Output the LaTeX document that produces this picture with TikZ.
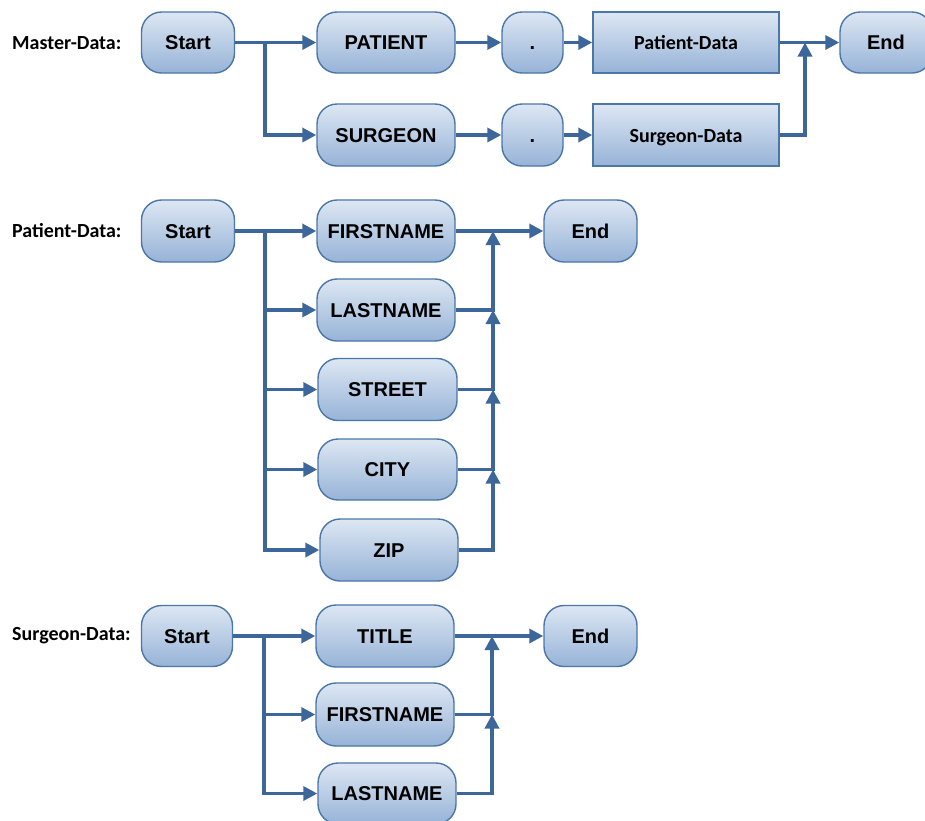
\documentclass[tikz,border=0pt]{standalone}
\usepackage{fontspec}
\setmainfont{Liberation Sans}
\newfontfamily\calfont{Carlito}
\usetikzlibrary{arrows.meta}
\definecolor{linec}{HTML}{3D679A}
\definecolor{bordc}{HTML}{4A76A8}
\definecolor{topc}{HTML}{DDE7F3}
\definecolor{botc}{HTML}{96B3D7}
\begin{document}
\begin{tikzpicture}[x=1pt,y=-1pt,
  boxbase/.style={draw=bordc, line width=1.4pt, top color=topc, bottom color=botc,
    inner sep=0pt, text=black, text height=14.5pt, text depth=0pt},
  rbox/.style 2 args={boxbase, rounded corners=20pt, minimum width=#1, minimum height=#2,
    font=\bfseries\fontsize{20}{24}\selectfont},
  sbox/.style 2 args={boxbase, minimum width=#1, minimum height=#2,
    font=\calfont\bfseries\fontsize{20}{24}\selectfont},
  lbl/.style={anchor=west, inner sep=0pt, font=\calfont\bfseries\fontsize{20}{24}\selectfont},
  conn/.style={draw=linec, line width=3.4pt},
  arr/.style={conn, -{Triangle[length=14pt,width=14pt]}},
  uparr/.style={arr}]
\useasboundingbox (0,0) rectangle (925,820);

% ---------- Master-Data ----------
\node[lbl] (lblM) at (12,43) {Master-Data:};
\node[rbox={93pt}{61pt}] (mStart) at (188,42.5) {Start};
\node[rbox={138pt}{61pt}] (mPat) at (386,42.5) {PATIENT};
\node[rbox={138pt}{62pt}] (mSur) at (386,135) {SURGEON};
\node[rbox={61pt}{61pt}] (mDot1) at (532.5,42.5) {.};
\node[rbox={61pt}{62pt}] (mDot2) at (532.5,135) {.};
\node[sbox={186pt}{61pt}] (mPD) at (686,42.5) {Patient-Data};
\node[sbox={186pt}{62pt}] (mSD) at (686,135) {Surgeon-Data};
\node[rbox={92pt}{61pt}] (mEnd) at (886,42.5) {End};
\coordinate (mB) at (265,42.5);
\coordinate (mJ) at (805,42.5);

\draw[arr] (mStart.east) -- (mPat.west);
\draw[arr] (mB) |- (mSur.west);
\draw[arr] (mPat.east) -- (mDot1.west);
\draw[arr] (mDot1.east) -- (mPD.west);
\draw[arr] (mSur.east) -- (mDot2.west);
\draw[arr] (mDot2.east) -- (mSD.west);
\draw[arr] (mPD.east) -- (mEnd.west);
\draw[uparr] (mSD.east) -| (mJ);

% ---------- Patient-Data ----------
\node[lbl] (lblP) at (12,231) {Patient-Data:};
\node[rbox={93pt}{62pt}] (pStart) at (188,231) {Start};
\node[rbox={138pt}{62pt}] (pFirst) at (386,231) {FIRSTNAME};
\node[rbox={138pt}{62pt}] (pLast) at (386,310) {LASTNAME};
\node[rbox={139pt}{62pt}] (pStreet) at (387.5,389.5) {STREET};
\node[rbox={139pt}{61pt}] (pCity) at (387.5,469.5) {CITY};
\node[rbox={138pt}{62pt}] (pZip) at (389,550) {ZIP};
\node[rbox={93pt}{62pt}] (pEnd) at (590.5,231) {End};
\coordinate (pB) at (265,231);
\coordinate (pM1) at (493,231);
\coordinate (pM2) at (493,310);
\coordinate (pM3) at (493,389.5);
\coordinate (pM4) at (493,469.5);

\draw[arr] (pStart.east) -- (pFirst.west);
\draw[arr] (pB) |- (pLast.west);
\draw[arr] (pB) |- (pStreet.west);
\draw[arr] (pB) |- (pCity.west);
\draw[arr] (pB) |- (pZip.west);
\draw[arr] (pFirst.east) -- (pEnd.west);
\draw[uparr] (pLast.east) -| (pM1);
\draw[uparr] (pStreet.east) -| (pM2);
\draw[uparr] (pCity.east) -| (pM3);
\draw[uparr] (pZip.east) -| (pM4);

% ---------- Surgeon-Data ----------
\node[lbl] (lblS) at (12,636) {Surgeon-Data:};
\node[rbox={91pt}{61pt}] (sStart) at (187,636) {Start};
\node[rbox={138pt}{62pt}] (sTitle) at (385,636) {TITLE};
\node[rbox={138pt}{63pt}] (sFirst) at (385,714.5) {FIRSTNAME};
\node[rbox={138pt}{61pt}] (sLast) at (387,793.5) {LASTNAME};
\node[rbox={93pt}{61pt}] (sEnd) at (590.5,636) {End};
\coordinate (sB) at (264,636);
\coordinate (sM1) at (492,636);
\coordinate (sM2) at (492,714.5);

\draw[arr] (sStart.east) -- (sTitle.west);
\draw[arr] (sB) |- (sFirst.west);
\draw[arr] (sB) |- (sLast.west);
\draw[arr] (sTitle.east) -- (sEnd.west);
\draw[uparr] (sFirst.east) -| (sM1);
\draw[uparr] (sLast.east) -| (sM2);
\end{tikzpicture}
\end{document}
